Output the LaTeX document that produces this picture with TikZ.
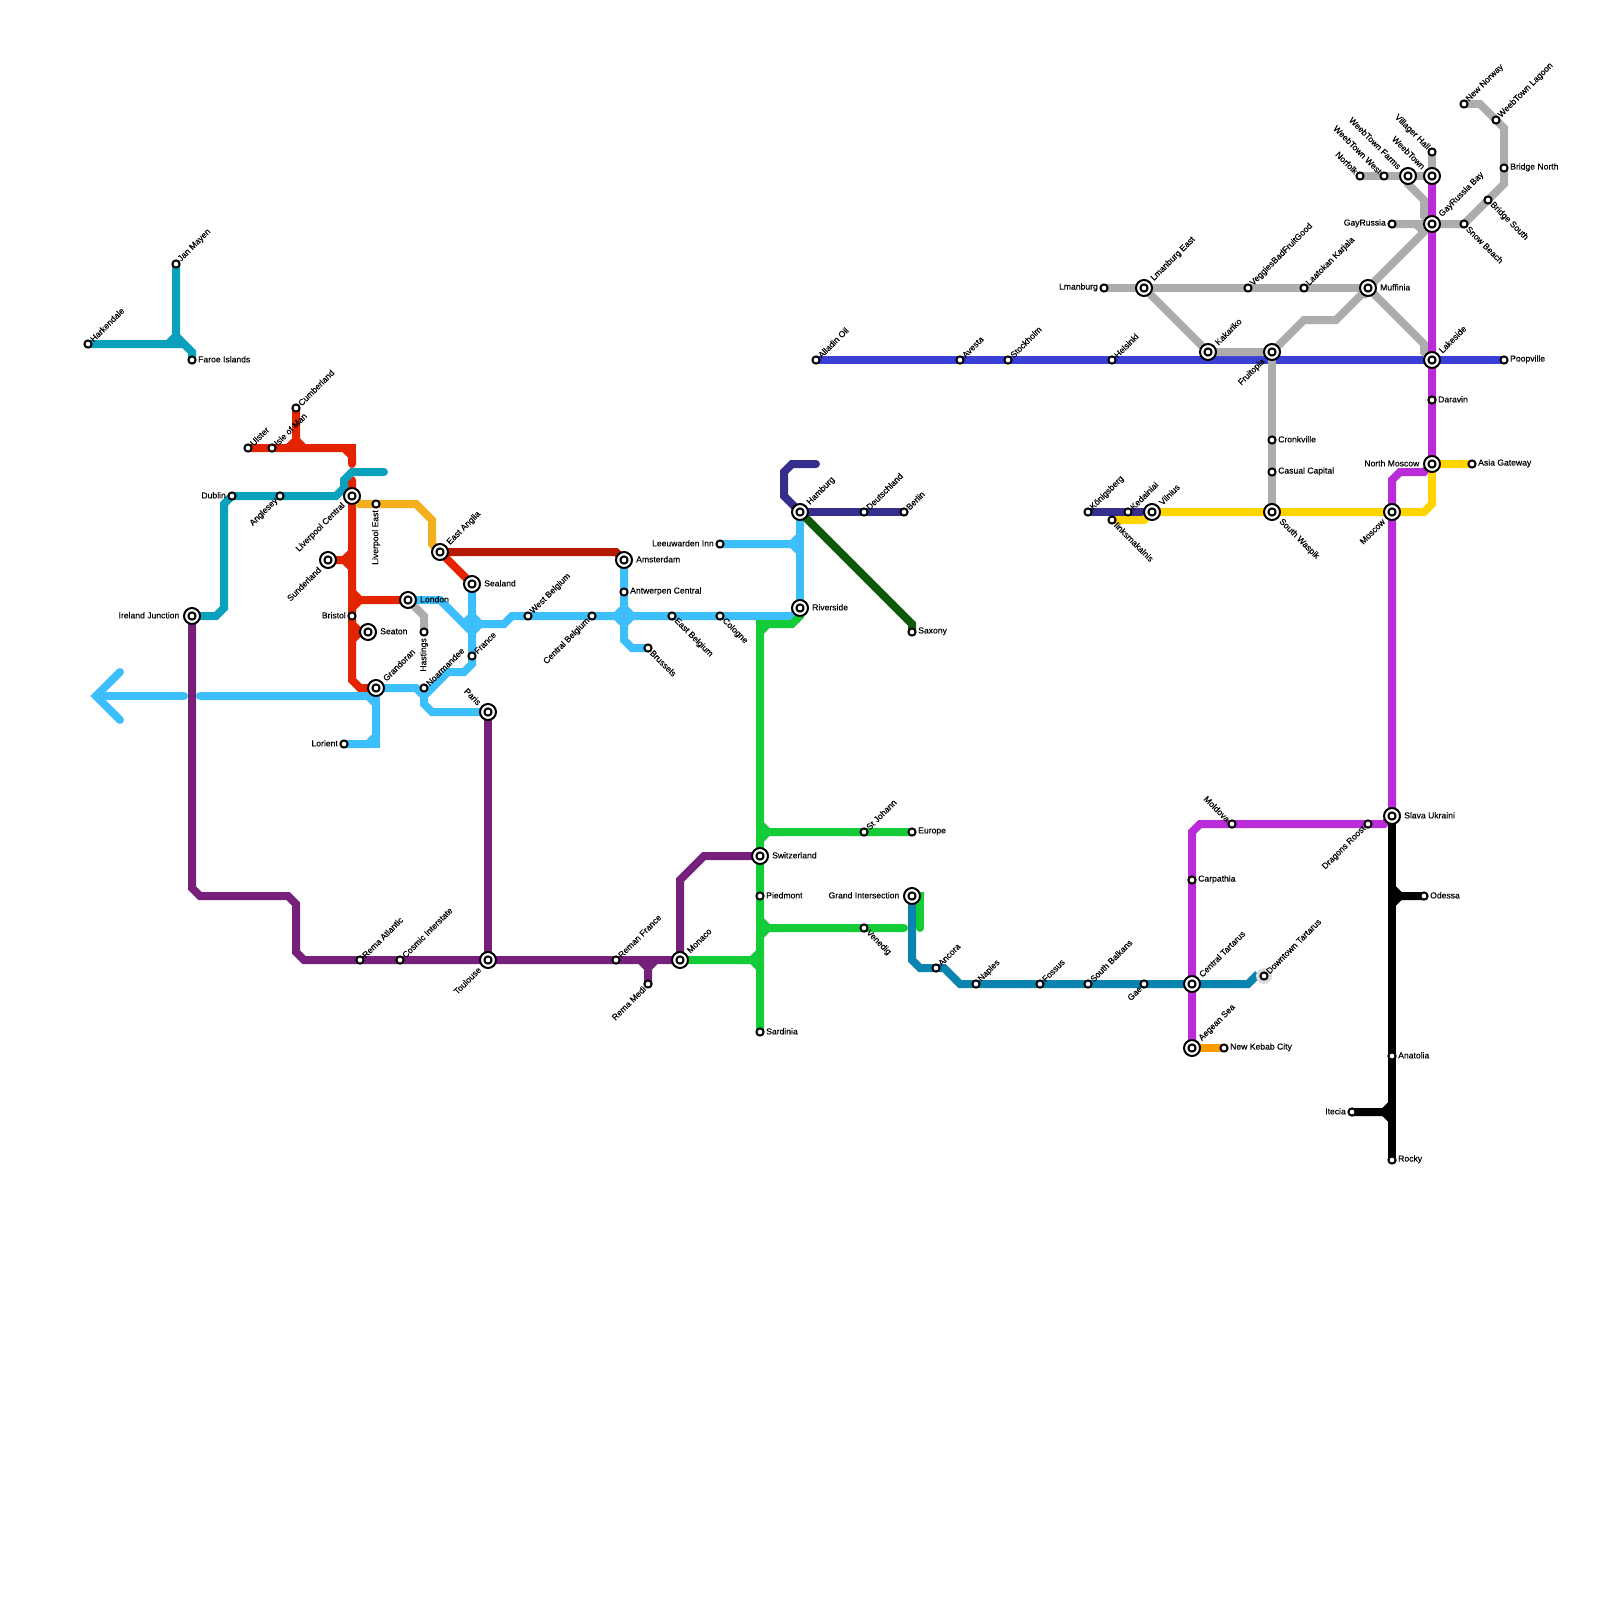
\documentclass[tikz,border=0pt]{standalone}
\usepackage{fontspec}
\setmainfont{Liberation Sans}
\newfontfamily\lblfont[FakeBold=0.35]{Liberation Sans}
\pgfdeclarelayer{lines}
\pgfsetlayers{lines,main}
\definecolor{cteal}{HTML}{0BA1BC}
\definecolor{cred}{HTML}{E32400}
\definecolor{cgold}{HTML}{F5AF1E}
\definecolor{cdred}{HTML}{B51A00}
\definecolor{csky}{HTML}{3DBFFC}
\definecolor{cgrey}{HTML}{ADADAD}
\definecolor{cplum}{HTML}{76207B}
\definecolor{cgreen}{HTML}{14CC36}
\definecolor{cocean}{HTML}{0A84AE}
\definecolor{cviolet}{HTML}{B92CD8}
\definecolor{cforest}{HTML}{0E5A0A}
\definecolor{cnavy}{HTML}{352E8C}
\definecolor{croyal}{HTML}{3A40D4}
\definecolor{cyellow}{HTML}{FFD400}
\definecolor{corange}{HTML}{FF9900}
\definecolor{chalo}{HTML}{DCDCDC}
\tikzset{
  stop/.style={circle,draw=black,fill=white,line width=2pt,minimum size=7.2pt,inner sep=0pt},
  bigstop/.style={circle,draw=black,fill=white,line width=2pt,minimum size=16pt,inner sep=0pt},
  lbl/.style={inner sep=0pt,text=black,font=\lblfont\fontsize{8.6}{10}\selectfont},
  smallne/.style={xshift=3.5pt,yshift=3.5pt,rotate=45,anchor=west},
  smallse/.style={xshift=3.5pt,yshift=-3.5pt,rotate=-45,anchor=west},
  smallsw/.style={xshift=-3.5pt,yshift=-3.5pt,rotate=45,anchor=east},
  smallnw/.style={xshift=-3.5pt,yshift=3.5pt,rotate=-45,anchor=east},
  smalle/.style={xshift=6pt,yshift=0.7pt,anchor=west},
  smallw/.style={xshift=-6pt,yshift=0.7pt,anchor=east},
  smallv/.style={yshift=-6pt,rotate=90,anchor=east},
  bigne/.style={xshift=8.3pt,yshift=8.3pt,rotate=45,anchor=west},
  bigse/.style={xshift=8.3pt,yshift=-8.3pt,rotate=-45,anchor=west},
  bigsw/.style={xshift=-8.3pt,yshift=-8.3pt,rotate=45,anchor=east},
  bignw/.style={xshift=-8.3pt,yshift=8.3pt,rotate=-45,anchor=east},
  bige/.style={xshift=12pt,yshift=0.7pt,anchor=west},
  bigw/.style={xshift=-12.5pt,yshift=0.7pt,anchor=east},
  metro/.style={line width=8pt,line cap=round,line join=miter},
  flat/.style={line width=8pt,line cap=butt,line join=miter},
}
\newcommand{\stn}[5]{\node[stop](#1) at (#2,#3) {}; \node[lbl,small#4](#1t) at (#1.center) {#5};}
\newcommand{\itc}[5]{\node[bigstop](#1) at (#2,#3) {}; \node[stop](#1i) at (#1.center) {}; \node[lbl,big#4](#1t) at (#1.center) {#5};}
\begin{document}
\begin{tikzpicture}[x=1pt,y=-1pt]
\useasboundingbox (0,0) rectangle (1600,1600);
% stations
\stn{hark}{88}{344}{ne}{Harkendale}
\stn{jan}{176}{264}{ne}{Jan Mayen}
\stn{faroe}{192}{360}{e}{Faroe Islands}
\stn{cumb}{296}{408}{ne}{Cumberland}
\stn{ulster}{248}{448}{ne}{Ulster}
\stn{isle}{272}{448}{ne}{Isle of Man}
\stn{dublin}{232}{496}{w}{Dublin}
\stn{angl}{280}{496}{sw}{Anglesey}
\itc{livc}{352}{496}{sw}{Liverpool Central}
\stn{live}{376}{504}{v}{Liverpool East}
\itc{sund}{328}{560}{sw}{Sunderland}
\itc{eang}{440}{552}{ne}{East Anglia}
\itc{seal}{472}{584}{e}{Sealand}
\itc{lond}{408}{600}{e}{London}
\stn{brist}{352}{616}{w}{Bristol}
\itc{seat}{368}{632}{e}{Seaton}
\stn{hast}{424}{632}{v}{Hastings}
\itc{gran}{376}{688}{ne}{Grandoran}
\stn{noar}{424}{688}{ne}{Noarmandee}
\stn{fran}{472}{656}{ne}{France}
\itc{paris}{488}{712}{nw}{Paris}
\stn{lori}{344}{744}{w}{Lorient}
\stn{wbel}{528}{616}{ne}{West Belgium}
\stn{cbel}{592}{616}{sw}{Central Belgium}
\itc{amst}{624}{560}{e}{Amsterdam}
\stn{antw}{624}{592}{e}{Antwerpen Central}
\stn{brus}{648}{648}{se}{Brussels}
\stn{ebel}{672}{616}{se}{East Belgium}
\stn{colo}{720}{616}{se}{Cologne}
\stn{leeu}{720}{544}{w}{Leeuwarden Inn}
\itc{river}{800}{608}{e}{Riverside}
\itc{hamb}{800}{512}{ne}{Hamburg}
\stn{deut}{864}{512}{ne}{Deutschland}
\stn{berl}{904}{512}{ne}{Berlin}
\stn{saxo}{912}{632}{e}{Saxony}
\itc{irel}{192}{616}{w}{Ireland Junction}
\stn{rema}{360}{960}{ne}{Rema Atlantic}
\stn{cosm}{400}{960}{ne}{Cosmic Interstate}
\itc{toul}{488}{960}{sw}{Toulouse}
\stn{remf}{616}{960}{ne}{Reman France}
\stn{remm}{648}{984}{sw}{Rema Medi}
\itc{mona}{680}{960}{ne}{Monaco}
\itc{swit}{760}{856}{e}{Switzerland}
\stn{pied}{760}{896}{e}{Piedmont}
\stn{stjo}{864}{832}{ne}{St Johann}
\stn{euro}{912}{832}{e}{Europe}
\stn{vene}{864}{928}{se}{Venedig}
\stn{sard}{760}{1032}{e}{Sardinia}
\itc{gran2}{912}{896}{w}{Grand Intersection}
\stn{anco}{936}{968}{ne}{Ancora}
\stn{napl}{976}{984}{ne}{Naples}
\stn{foss}{1040}{984}{ne}{Fossus}
\stn{sbal}{1088}{984}{ne}{South Balkans}
\stn{gae}{1144}{984}{sw}{Gae}
\itc{ctar}{1192}{984}{ne}{Central Tartarus}
\stn{dtar}{1264}{976}{ne}{Downtown Tartarus}
\itc{aege}{1192}{1048}{ne}{Aegean Sea}
\stn{nkeb}{1224}{1048}{e}{New Kebab City}
\stn{carp}{1192}{880}{e}{Carpathia}
\stn{mold}{1232}{824}{nw}{Moldova}
\stn{drag}{1368}{824}{sw}{Dragons Roost}
\itc{slav}{1392}{816}{e}{Slava Ukraini}
\stn{odes}{1424}{896}{e}{Odessa}
\stn{anat}{1392}{1056}{e}{Anatolia}
\stn{itec}{1352}{1112}{w}{Itecia}
\stn{rock}{1392}{1160}{e}{Rocky}
\stn{koni}{1088}{512}{ne}{Königsberg}
\stn{keda}{1128}{512}{ne}{Kedainiai}
\stn{iink}{1112}{520}{se}{Iinksmakalnis}
\itc{viln}{1152}{512}{ne}{Vilnius}
\itc{swas}{1272}{512}{se}{South Waspik}
\itc{mosc}{1392}{512}{sw}{Moscow}
\itc{nmos}{1432}{464}{w}{North Moscow}
\stn{asia}{1472}{464}{e}{Asia Gateway}
\stn{dara}{1432}{400}{e}{Daravin}
\stn{cron}{1272}{440}{e}{Cronkville}
\stn{casu}{1272}{472}{e}{Casual Capital}
\stn{alla}{816}{360}{ne}{Alladin Oil}
\stn{aves}{960}{360}{ne}{Avesta}
\stn{stoc}{1008}{360}{ne}{Stockholm}
\stn{hels}{1112}{360}{ne}{Helsinki}
\itc{kaka}{1208}{352}{ne}{Kakariko}
\itc{frui}{1272}{352}{sw}{Fruitopia}
\itc{lake}{1432}{360}{ne}{Lakeside}
\stn{poop}{1504}{360}{e}{Poopville}
\stn{lman}{1104}{288}{w}{Lmanburg}
\itc{lmae}{1144}{288}{ne}{Lmanburg East}
\stn{vegg}{1248}{288}{ne}{VeggiesBadFruitGood}
\stn{laat}{1304}{288}{ne}{Laatokan Karjala}
\itc{muff}{1368}{288}{e}{Muffinia}
\stn{gayr}{1392}{224}{w}{GayRussia}
\itc{gayb}{1432}{224}{ne}{GayRussia Bay}
\stn{snow}{1464}{224}{se}{Snow Beach}
\stn{bsou}{1488}{200}{se}{Bridge South}
\stn{bnor}{1504}{168}{e}{Bridge North}
\stn{wlag}{1496}{120}{ne}{WeebTown Lagoon}
\stn{nnor}{1464}{104}{ne}{New Norway}
\stn{norf}{1360}{176}{nw}{Norfolk}
\stn{wwes}{1384}{176}{nw}{WeebTown West}
\itc{wfar}{1408}{176}{nw}{WeebTown Farms}
\itc{webt}{1432}{176}{nw}{WeebTown}
\stn{vill}{1432}{152}{nw}{Villager Hall}
% connectors
\begin{pgfonlayer}{lines}
\fill[white] (0,0) rectangle (1600,1600);
\coordinate (jMay) at (176,344);
\coordinate (jCum) at (296,448);
\coordinate (redTop) at (352,464);
\coordinate (redBeg) at (352,480);
\coordinate (tealEnd) at (384,472);
\coordinate (jSun) at (344,560);
\coordinate (jLon) at (360,600);
\coordinate (jSea) at (360,632);
\coordinate (jSky) at (472,624);
\coordinate (jSkyB) at (624,616);
\coordinate (jNoa) at (424,696);
\coordinate (jLee) at (792,544);
\coordinate (skyA) at (200,696);
\coordinate (skyB) at (184,696);
\coordinate (tip) at (96,696);
\coordinate (wingA) at (120,672);
\coordinate (wingB) at (120,720);
\coordinate (navyEnd) at (816,464);
\coordinate (jMed) at (648,968);
\coordinate (jGa) at (768,832);
\coordinate (jGb) at (768,928);
\coordinate (jGc) at (752,960);
\coordinate (greenEnd) at (904,928);
\coordinate (greenEnd2) at (920,928);
\coordinate (oceanEnd) at (1258,974);
\coordinate (jOde) at (1400,896);
\coordinate (jIte) at (1384,1112);
% teal
\draw[metro,cteal] (hark.center) -- (168,344) -- (jMay) -- (184,344) -- (192,352) -- (faroe.center);
\draw[metro,cteal] (jan.center) -- (176,336) -- (168,344);
\draw[metro,cteal] (176,336) -- (184,344);
% red
\draw[metro,cred] (ulster.center) -- (344,448) -- (352,456) -- (redTop);
\draw[metro,cred] (344,448) -- (352,448) -- (352,456);
\draw[metro,cred] (cumb.center) -- (296,440) -- (288,448);
\draw[metro,cred] (296,440) -- (304,448);
\draw[metro,cred] (redBeg) -- (352,680) -- (360,688) -- (gran.center);
\draw[flat,cred] (sund.center) -- (jSun) -- (352,552);
\draw[flat,cred] (jSun) -- (352,568);
\draw[flat,cred] (lond.center) -- (jLon) -- (352,592);
\draw[flat,cred] (jLon) -- (352,608);
\draw[flat,cred] (seat.center) -- (jSea) -- (352,624);
\draw[flat,cred] (jSea) -- (352,640);
\draw[flat,cred] (eang.center) -- (seal.center);
% teal over red
\draw[metro,cteal] (irel.center) -- (216,616) -- (224,608) -- (224,504) -- (232,496) -- (336,496) -- (344,488) -- (344,480) -- (352,472) -- (tealEnd);
% gold, dark red
\draw[flat,cgold] (livc.center) -- (360,504) -- (416,504) -- (432,520) -- (432,544) -- (eang.center);
\draw[flat,cdred] (eang.center) -- (616,552) -- (amst.center);
% grey
\draw[flat,cgrey] (lond.center) -- (424,616) -- (hast.center);
% sky
\draw[flat,csky] (lond.center) -- (440,600) -- (472,632);
\draw[flat,csky] (seal.center) -- (jSky) -- (fran.center) -- (472,664) -- (464,672) -- (448,672) -- (jNoa) -- (424,704) -- (432,712) -- (paris.center);
\draw[flat,csky] (gran.center) -- (416,688) -- (jNoa);
\draw[flat,csky] (464,624) -- (472,616) -- (480,624) -- (472,632);
\draw[flat,csky] (jSky) -- (504,624) -- (512,616) -- (jSkyB) -- (792,616) -- (river.center);
\draw[flat,csky] (amst.center) -- (jSkyB) -- (624,640) -- (632,648) -- (brus.center);
\draw[flat,csky] (616,616) -- (624,608) -- (632,616) -- (624,624) -- cycle;
\draw[flat,csky] (leeu.center) -- (jLee) -- (800,536);
\draw[flat,csky] (jLee) -- (800,552);
\draw[flat,csky] (hamb.center) -- (river.center);
\draw[metro,csky] (skyA) -- (368,696) -- (376,704) -- (376,736) -- (368,744) -- (lori.center);
\draw[metro,csky] (368,744) -- (376,744) -- (376,736);
\draw[flat,csky] (gran.center) -- (376,704);
\draw[metro,csky] (skyB) -- (tip);
\draw[metro,csky] (wingA) -- (tip) -- (wingB);
% plum
\draw[flat,cplum] (irel.center) -- (192,888) -- (200,896) -- (288,896) -- (296,904) -- (296,952) -- (304,960) -- (toul.center) -- (mona.center) -- (680,880) -- (704,856) -- (swit.center);
\draw[flat,cplum] (paris.center) -- (toul.center);
\draw[flat,cplum] (640,960) -- (jMed) -- (remm.center);
\draw[flat,cplum] (jMed) -- (656,960);
% green
\draw[flat,cgreen] (river.center) -- (800,616) -- (792,624) -- (768,624) -- (760,632) -- (sard.center);
\draw[flat,cgreen] (768,624) -- (760,624) -- (760,632);
\draw[flat,cgreen] (760,824) -- (jGa) -- (euro.center);
\draw[flat,cgreen] (760,840) -- (jGa);
\draw[metro,cgreen] (760,920) -- (jGb) -- (greenEnd);
\draw[flat,cgreen] (760,936) -- (jGb);
\draw[flat,cgreen] (mona.center) -- (jGc) -- (760,952);
\draw[flat,cgreen] (jGc) -- (760,968);
\draw[metro,cgreen] (gran2.center) -- (920,896) -- (greenEnd2);
% forest, navy
\draw[flat,cforest] (hamb.center) -- (912,624) -- (saxo.center);
\draw[metro,cnavy] (hamb.center) -- (784,496) -- (784,472) -- (792,464) -- (navyEnd);
\draw[flat,cnavy] (hamb.center) -- (berl.center);
\draw[flat,cnavy] (koni.center) -- (viln.center);
% ocean
\draw[flat,cocean] (gran2.center) -- (912,960) -- (920,968) -- (944,968) -- (960,984) -- (1248,984) -- (oceanEnd);
\fill[chalo] (dtar.center) circle (8pt);
% royal
\draw[flat,croyal] (alla.center) -- (poop.center);
% grey network
\draw[flat,cgrey] (lman.center) -- (muff.center);
\draw[flat,cgrey] (lmae.center) -- (kaka.center) -- (frui.center) -- (1304,320) -- (1336,320) -- (muff.center);
\draw[flat,cgrey] (1360,288) -- (1368,296);
\draw[flat,cgrey] (muff.center) -- (1424,344) -- (1424,352) -- (lake.center);
\draw[flat,cgrey] (muff.center) -- (gayb.center);
\draw[flat,cgrey] (frui.center) -- (swas.center);
\draw[flat,cgrey] (gayr.center) -- (1464,224) -- (1504,184) -- (1504,128) -- (1480,104) -- (nnor.center);
\draw[flat,cgrey] (norf.center) -- (webt.center);
\draw[flat,cgrey] (vill.center) -- (webt.center);
\draw[flat,cgrey] (wfar.center) -- (1408,184) -- (1424,200) -- (1424,216) -- (gayb.center);
\draw[flat,cgrey] (1416,224) -- (1424,232);
% violet
\draw[flat,cviolet] (webt.center) -- (nmos.center) -- (1424,472) -- (1400,472) -- (1392,480) -- (slav.center) -- (1384,824) -- (1200,824) -- (1192,832) -- (aege.center);
% yellow, orange
\draw[flat,cyellow] (iink.center) -- (1144,520) -- (viln.center) -- (1424,512) -- (1432,504) -- (nmos.center) -- (asia.center);
\draw[flat,corange] (aege.center) -- (nkeb.center);
% black
\draw[flat,black] (slav.center) -- (rock.center);
\draw[flat,black] (odes.center) -- (jOde) -- (1392,888);
\draw[flat,black] (jOde) -- (1392,904);
\draw[flat,black] (itec.center) -- (jIte) -- (1392,1104);
\draw[flat,black] (jIte) -- (1392,1120);
\end{pgfonlayer}
\end{tikzpicture}
\end{document}
